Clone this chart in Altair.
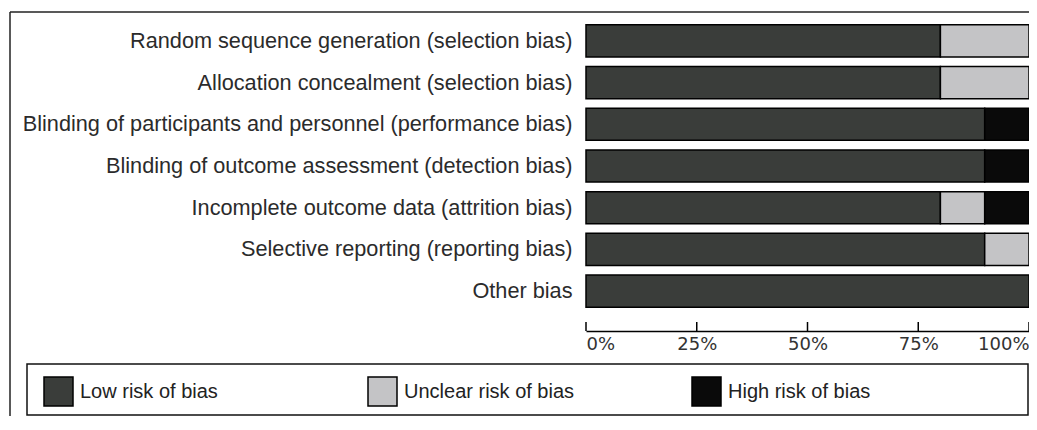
import altair as alt
import pandas as pd

domains = [
    "Random sequence generation (selection bias)",
    "Allocation concealment (selection bias)",
    "Blinding of participants and personnel (performance bias)",
    "Blinding of outcome assessment (detection bias)",
    "Incomplete outcome data (attrition bias)",
    "Selective reporting (reporting bias)",
    "Other bias",
]
low = [80, 80, 90, 90, 80, 90, 100]
unclear = [20, 20, 0, 0, 10, 10, 0]
high = [0, 0, 10, 10, 10, 0, 0]
categories = ["Low risk of bias", "Unclear risk of bias", "High risk of bias"]
colors = ["#3a3d3a", "#c4c4c6", "#0a0a0a"]
tick_values = [0, 25, 50, 75, 100]

rows = []
for d, l, u, h in zip(domains, low, unclear, high):
    for k, (cat, v) in enumerate(zip(categories, [l, u, h])):
        if v > 0:
            rows.append({"domain": d, "judgement": cat, "percent": v, "order": k})
df = pd.DataFrame(rows)
ticks_df = pd.DataFrame({"t": tick_values})
dummy = pd.DataFrame({"a": [0]})

xscale = alt.Scale(domain=[0, 100], nice=False, zero=True)

bars = alt.Chart(df).mark_bar(stroke="black", strokeWidth=1.5, opacity=1).encode(
    x=alt.X(
        "percent:Q",
        stack="zero",
        scale=xscale,
        title=None,
        axis=alt.Axis(
            values=tick_values,
            labelExpr="datum.value + '%'",
            offset=19,
            ticks=False,
            grid=False,
            domainColor="black",
            domainWidth=1.5,
            labelFont="DejaVu Sans",
            labelFontSize=18,
            labelColor="#333333",
            labelPadding=4,
            labelFlush=True,
        ),
    ),
    y=alt.Y(
        "domain:N",
        sort=domains,
        scale=alt.Scale(paddingInner=0.23, paddingOuter=0.115),
        title=None,
        axis=alt.Axis(
            ticks=False,
            domain=False,
            labelFont="Liberation Sans",
            labelFontSize=21.7,
            labelColor="#2b2b2b",
            labelPadding=14,
            labelLimit=700,
        ),
    ),
    color=alt.Color(
        "judgement:N",
        scale=alt.Scale(domain=categories, range=colors),
        title=None,
        legend=alt.Legend(
            orient="none",
            legendX=-543,
            legendY=356,
            direction="horizontal",
            columns=3,
            gridAlign="all",
            columnPadding=114,
            padding=0,
            symbolType="square",
            symbolSize=841,
            symbolStrokeColor="black",
            symbolStrokeWidth=1.5,
            symbolOpacity=1,
            labelFont="Liberation Sans",
            labelFontSize=20,
            labelColor="#222222",
            labelOffset=6,
            labelLimit=400,
        ),
    ),
    order=alt.Order("order:Q"),
)

axis_ticks = alt.Chart(ticks_df).mark_rule(color="black", strokeWidth=1.5).encode(
    x=alt.X("t:Q", scale=xscale, title=None),
    y=alt.value(302),
    y2=alt.value(311),
)

frame_top = alt.Chart(dummy).mark_rule(color="#222222", strokeWidth=1.5).encode(
    x=alt.value(-576), x2=alt.value(443), y=alt.value(-8), y2=alt.value(-8)
)
frame_left = alt.Chart(dummy).mark_rule(color="#222222", strokeWidth=1.5).encode(
    x=alt.value(-576), x2=alt.value(-576), y=alt.value(-8), y2=alt.value(400)
)
legend_box = alt.Chart(dummy).mark_rect(
    fillOpacity=0, stroke="#111111", strokeWidth=1.5
).encode(
    x=alt.value(-559), x2=alt.value(442), y=alt.value(344), y2=alt.value(395)
)

chart = (
    alt.layer(frame_top, frame_left, legend_box, bars, axis_ticks)
    .properties(
        width=443,
        height=292,
        autosize=alt.AutoSizeParams(type="none"),
        padding={"left": 578, "top": 12, "right": 0, "bottom": 104},
        background="white",
    )
    .configure_view(strokeWidth=0)
)

chart.save("out.html", embed_options={"renderer": "svg", "actions": False})
